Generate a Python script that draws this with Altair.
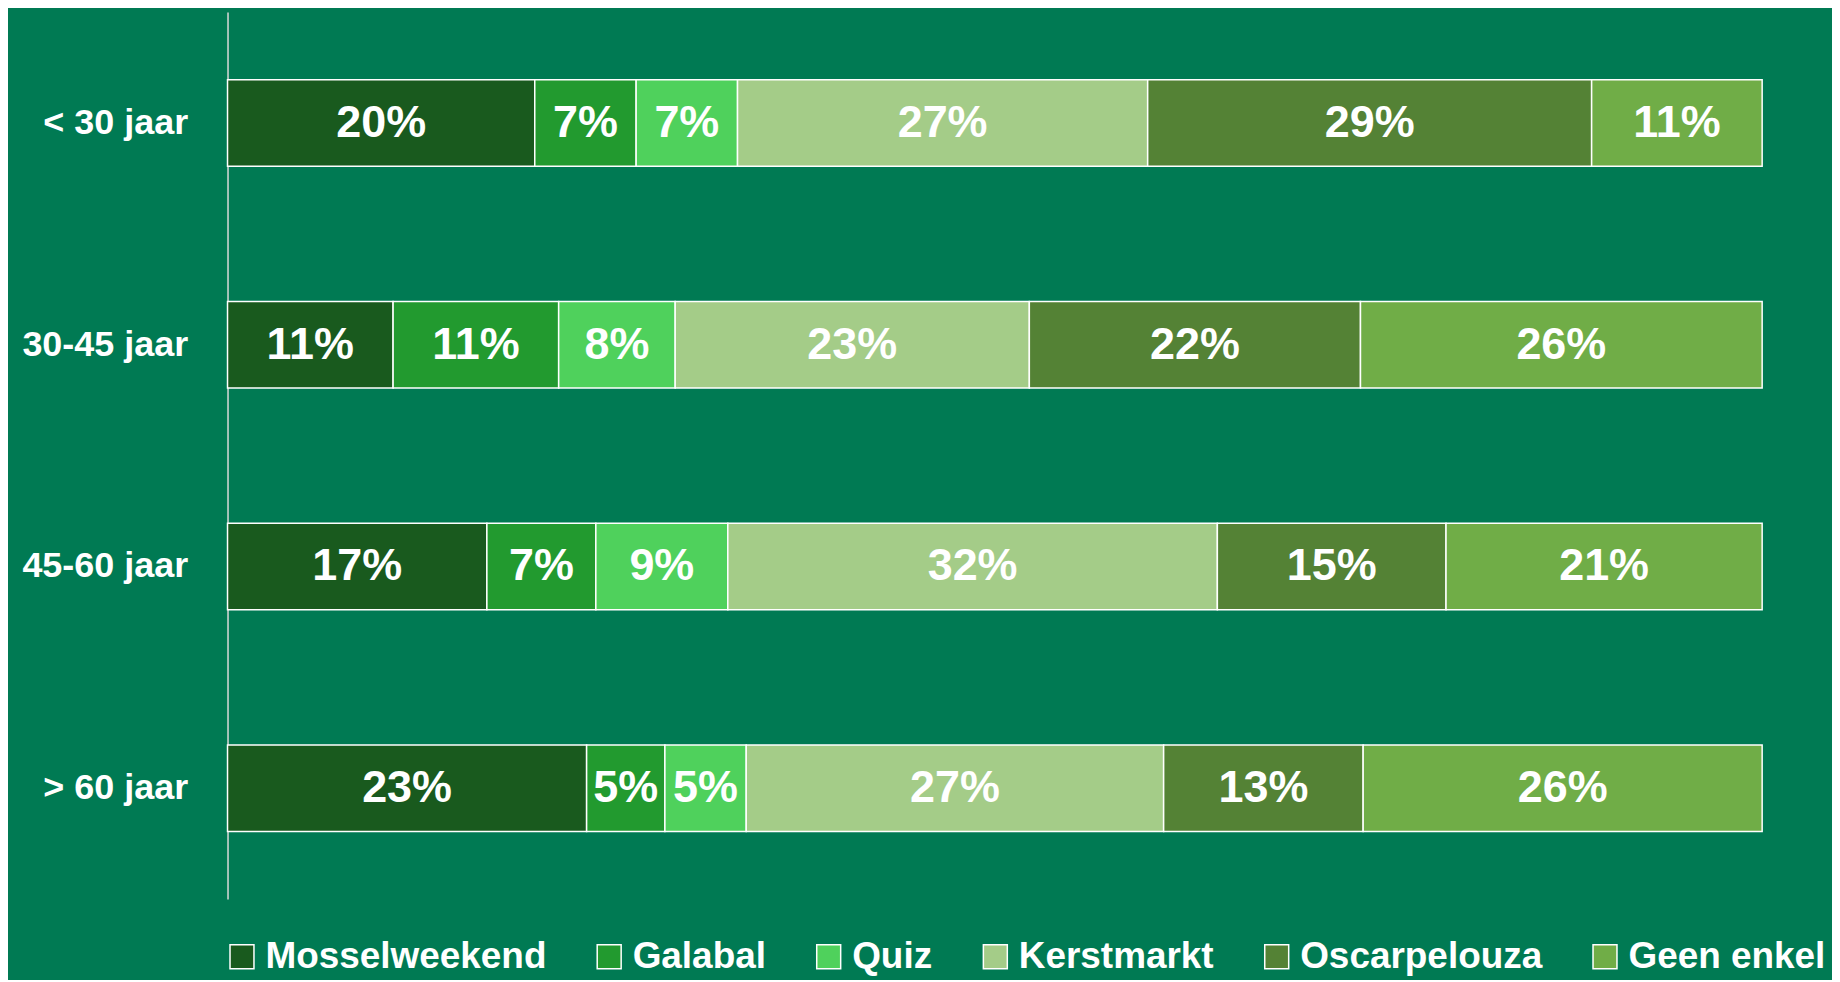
import altair as alt
import pandas as pd

ages = ["< 30 jaar", "30-45 jaar", "45-60 jaar", "> 60 jaar"]
events = ["Mosselweekend", "Galabal", "Quiz", "Kerstmarkt", "Oscarpelouza", "Geen enkel"]
colors = ["#195a1e", "#229a2f", "#4fd15c", "#a4cc88", "#548235", "#70ad47"]

under_30 = [20.0, 6.6, 6.6, 26.7, 28.9, 11.1]
age_30_45 = [10.8, 10.8, 7.6, 23.1, 21.6, 26.2]
age_45_60 = [16.9, 7.1, 8.6, 31.9, 14.9, 20.6]
over_60 = [23.4, 5.1, 5.3, 27.2, 13.0, 26.0]

series = [under_30, age_30_45, age_45_60, over_60]
rows = []
for age, vals in zip(ages, series):
    for i, (ev, v) in enumerate(zip(events, vals)):
        rows.append({"age": age, "event": ev, "order": i, "value": v})
df = pd.DataFrame(rows)

FONT = "Liberation Sans"
BG = "#007a53"

y_axis = alt.Axis(
    title=None, ticks=False, grid=False, domainColor="#d9d9d9", domainWidth=1.5,
    labelFont=FONT, labelFontSize=36, labelFontWeight="bold", labelColor="white",
    labelPadding=40,
)
y_enc = alt.Y("age:N", sort=ages,
              scale=alt.Scale(paddingInner=0.61, paddingOuter=0.305), axis=y_axis)

base = alt.Chart(df).transform_stack(
    stack="value", groupby=["age"], as_=["x0", "x1"], offset="normalize",
    sort=[alt.SortField("order")]
).transform_calculate(
    mid="(datum.x0 + datum.x1) / 2",
    label="format(datum.value, '.0f') + '%'",
)

bars = base.mark_bar(stroke="white", strokeWidth=1.5, opacity=1).encode(
    x=alt.X("x0:Q", scale=alt.Scale(domain=[0, 1], nice=False, zero=True), axis=None),
    x2="x1:Q",
    y=y_enc,
    color=alt.Color(
        "event:N", sort=events,
        scale=alt.Scale(domain=events, range=colors),
        legend=alt.Legend(
            title=None, orient="none", legendX=-4, legendY=928, direction="horizontal",
            columns=6, symbolType="square", symbolSize=576, symbolStrokeColor="white",
            symbolStrokeWidth=1.5, symbolOpacity=1, labelFont=FONT, labelFontSize=37,
            labelFontWeight="bold", labelColor="white", labelOffset=5,
            columnPadding=44, labelLimit=500,
        ),
    ),
)

text = base.mark_text(
    font=FONT, fontSize=45, fontWeight="bold", color="white", baseline="middle", align="center"
).encode(
    x=alt.X("mid:Q", scale=alt.Scale(domain=[0, 1], nice=False, zero=True), axis=None),
    y=y_enc,
    text="label:N",
)

chart = alt.layer(bars, text).properties(
    width=1538, height=889,
    padding={"left": 220, "top": 3, "right": 70, "bottom": 80},
    autosize=alt.AutoSizeParams(type="none"),
    background=BG,
).configure_view(stroke=None)

chart.save("out.html", embed_options={"renderer": "svg", "actions": False})
